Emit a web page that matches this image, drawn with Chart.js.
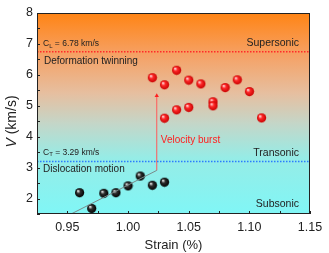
<!DOCTYPE html>
<html>
<head>
<meta charset="utf-8">
<script src="https://cdn.jsdelivr.net/npm/chart.js@4"></script>
<style>
  html, body { margin: 0; padding: 0; background: #fff; }
  #wrap { width: 329px; height: 253px; }
</style>
</head>
<body>
<div id="wrap"><canvas id="chart" width="329" height="253"></canvas></div>
<script>
// data
const twinX = [1.02, 1.03, 1.04, 1.05, 1.06, 1.08, 1.09, 1.10, 1.03, 1.04, 1.05, 1.07, 1.07, 1.11];
const twinV = [5.91, 5.68, 6.15, 5.83, 5.71, 5.59, 5.84, 5.46, 4.60, 4.87, 4.95, 5.13, 5.00, 4.61];
const dislX = [0.96, 0.97, 0.98, 0.99, 1.00, 1.01, 1.02, 1.03];
const dislV = [2.19, 1.68, 2.17, 2.19, 2.41, 2.73, 2.43, 2.53];
const trendX = [0.9536, 1.0237];
const trendV = [1.51, 2.91];
const burstX = [1.0237, 1.0237];
const burstV = [2.91, 5.32];
const cL = 6.75, cT = 3.2;
const xRange = [0.925, 1.15];
const yRange = [1.5, 8];

function sphere(r, hi, mid, edge) {
    const c = document.createElement("canvas");
    c.width = c.height = r * 2 + 2;
    const g = c.getContext("2d");
    const cx = r + 1, cy = r + 1;
    const grad = g.createRadialGradient(cx - r * 0.35, cy - r * 0.4, r * 0.1, cx, cy, r);
    grad.addColorStop(0, hi); grad.addColorStop(0.35, mid); grad.addColorStop(1, edge);
    g.fillStyle = grad;
    g.beginPath(); g.arc(cx, cy, r, 0, Math.PI * 2); g.fill();
    return c;
}
const redBall = sphere(4.6, "#ffd0d0", "#ff2a2a", "#c80000");
const blackBall = sphere(4.6, "#e0e0e0", "#303030", "#000000");

const pts = (xs, ys) => xs.map((x, i) => ({ x, y: ys[i] }));

const bgPlugin = {
    id: "bg",
    beforeDraw(chart) {
        const { ctx, chartArea: a } = chart;
        const g = ctx.createLinearGradient(0, a.top, 0, a.bottom);
        g.addColorStop(0, "#ff8414");
        g.addColorStop(0.2, "#f6a062");
        g.addColorStop(0.4, "#e6bfa0");
        g.addColorStop(0.55, "#c4d6c8");
        g.addColorStop(0.72, "#96ece6");
        g.addColorStop(1, "#80f6f6");
        ctx.save(); ctx.fillStyle = g;
        ctx.fillRect(a.left, a.top, a.right - a.left, a.bottom - a.top);
        ctx.restore();
    },
    afterDraw(chart) {
        const { ctx, chartArea: a, scales } = chart;
        const xs = scales.x, ys = scales.y;
        ctx.save();
        // frame
        ctx.strokeStyle = "#222"; ctx.lineWidth = 1;
        ctx.strokeRect(a.left + 0.5, a.top + 0.5, a.right - a.left - 1, a.bottom - a.top - 1);
        // inward ticks
        ctx.beginPath();
        xs.ticks.forEach(t => { const p = Math.round(xs.getPixelForValue(t.value)) + 0.5; ctx.moveTo(p, a.bottom); ctx.lineTo(p, a.bottom - 3); });
        ys.ticks.forEach(t => { const p = Math.round(ys.getPixelForValue(t.value)) + 0.5; ctx.moveTo(a.left, p); ctx.lineTo(a.left + 3, p); });
        ctx.stroke();
        // labels
        const F = "'Liberation Sans', Arial, sans-serif";
        ctx.textBaseline = "middle";
        const L = a.left + 6;
        function sub(main, s, rest, x, y) {
            ctx.font = "8.5px " + F; ctx.textAlign = "left"; ctx.fillStyle = "#222";
            ctx.fillText(main, x, y);
            let w = ctx.measureText(main).width;
            ctx.font = "6px " + F; ctx.fillText(s, x + w, y + 2);
            w += ctx.measureText(s).width;
            ctx.font = "8.5px " + F; ctx.fillText(rest, x + w, y);
        }
        sub("C", "L", " = 6.78 km/s", L, ys.getPixelForValue(7.0));
        sub("C", "T", " = 3.29 km/s", L, ys.getPixelForValue(3.48));
        ctx.font = "10px " + F; ctx.fillStyle = "#222";
        ctx.fillText("Deformation twinning", L + 1, ys.getPixelForValue(6.43));
        ctx.fillText("Dislocation motion", L, ys.getPixelForValue(2.94));
        ctx.textAlign = "right";
        ctx.font = "10.5px " + F;
        ctx.fillText("Supersonic", a.right - 11, ys.getPixelForValue(7.02));
        ctx.fillText("Transonic", a.right - 11, ys.getPixelForValue(3.48));
        ctx.fillText("Subsonic", a.right - 11, ys.getPixelForValue(1.81));
        ctx.textAlign = "left"; ctx.fillStyle = "#ff2020"; ctx.font = "10px " + F;
        ctx.fillText("Velocity burst", xs.getPixelForValue(1.027), ys.getPixelForValue(3.9));
        // y title with italic V
        ctx.translate(12, (a.top + a.bottom) / 2 + 8);
        ctx.rotate(-Math.PI / 2);
        ctx.fillStyle = "#222"; ctx.textAlign = "left";
        const t1 = "V", t2 = " (km/s)";
        ctx.font = "14px " + F; const w2 = ctx.measureText(t2).width;
        ctx.font = "italic 14px " + F; const w1 = ctx.measureText(t1).width;
        const x0 = -(w1 + w2) / 2;
        ctx.fillText(t1, x0, 0);
        ctx.font = "14px " + F; ctx.fillText(t2, x0 + w1, 0);
        ctx.restore();
    }
};

const ctx = document.getElementById("chart");
new Chart(ctx, {
    type: "scatter",
    data: {
        datasets: [
            { data: pts(xRange, [cL, cL]), showLine: true, borderColor: "#ff2a2a", borderWidth: 1.5, borderDash: [1.5, 1.5], pointRadius: 0 },
            { data: pts(xRange, [cT, cT]), showLine: true, borderColor: "#2a7cff", borderWidth: 1.5, borderDash: [1.5, 1.5], pointRadius: 0 },
            { data: pts(trendX, trendV), showLine: true, borderColor: "#7a8a8a", borderWidth: 1, pointRadius: 0 },
            { data: pts(burstX, burstV), showLine: true, borderColor: "#ff5a5a", borderWidth: 1, pointRadius: [0, 2.5],
              pointStyle: "triangle", pointBackgroundColor: "#ff2020", pointBorderWidth: 0 },
            { data: pts(dislX, dislV), pointStyle: blackBall, pointRadius: 5 },
            { data: pts(twinX, twinV), pointStyle: redBall, pointRadius: 5 }
        ]
    },
    options: {
        responsive: false, animation: false,
        layout: { padding: { top: 13, right: 19, left: 0, bottom: 0 } },
        plugins: { legend: { display: false }, tooltip: { enabled: false } },
        scales: {
            x: {
                min: xRange[0], max: xRange[1],
                grid: { display: false, drawTicks: false }, border: { display: false },
                ticks: { stepSize: 0.025, padding: 6, color: "#222", maxRotation: 0, autoSkip: false,
                    font: { family: "'Liberation Sans', Arial, sans-serif", size: 12.5 },
                    callback: v => Math.abs(v * 20 - Math.round(v * 20)) < 1e-6 ? v.toFixed(2) : "" },
                title: { display: true, text: "Strain (%)", color: "#222", padding: 0,
                    font: { family: "'Liberation Sans', Arial, sans-serif", size: 13 } },
                afterFit: s => { s.height = 39; }
            },
            y: {
                min: yRange[0], max: yRange[1],
                grid: { display: false, drawTicks: false }, border: { display: false },
                ticks: { stepSize: 0.5, padding: 4, color: "#222", autoSkip: false,
                    font: { family: "'Liberation Sans', Arial, sans-serif", size: 12.5 },
                    callback: v => Number.isInteger(v) ? String(v) : "" },
                afterFit: s => { s.width = 37; }
            }
        }
    },
    plugins: [bgPlugin]
});
</script>
</body>
</html>
